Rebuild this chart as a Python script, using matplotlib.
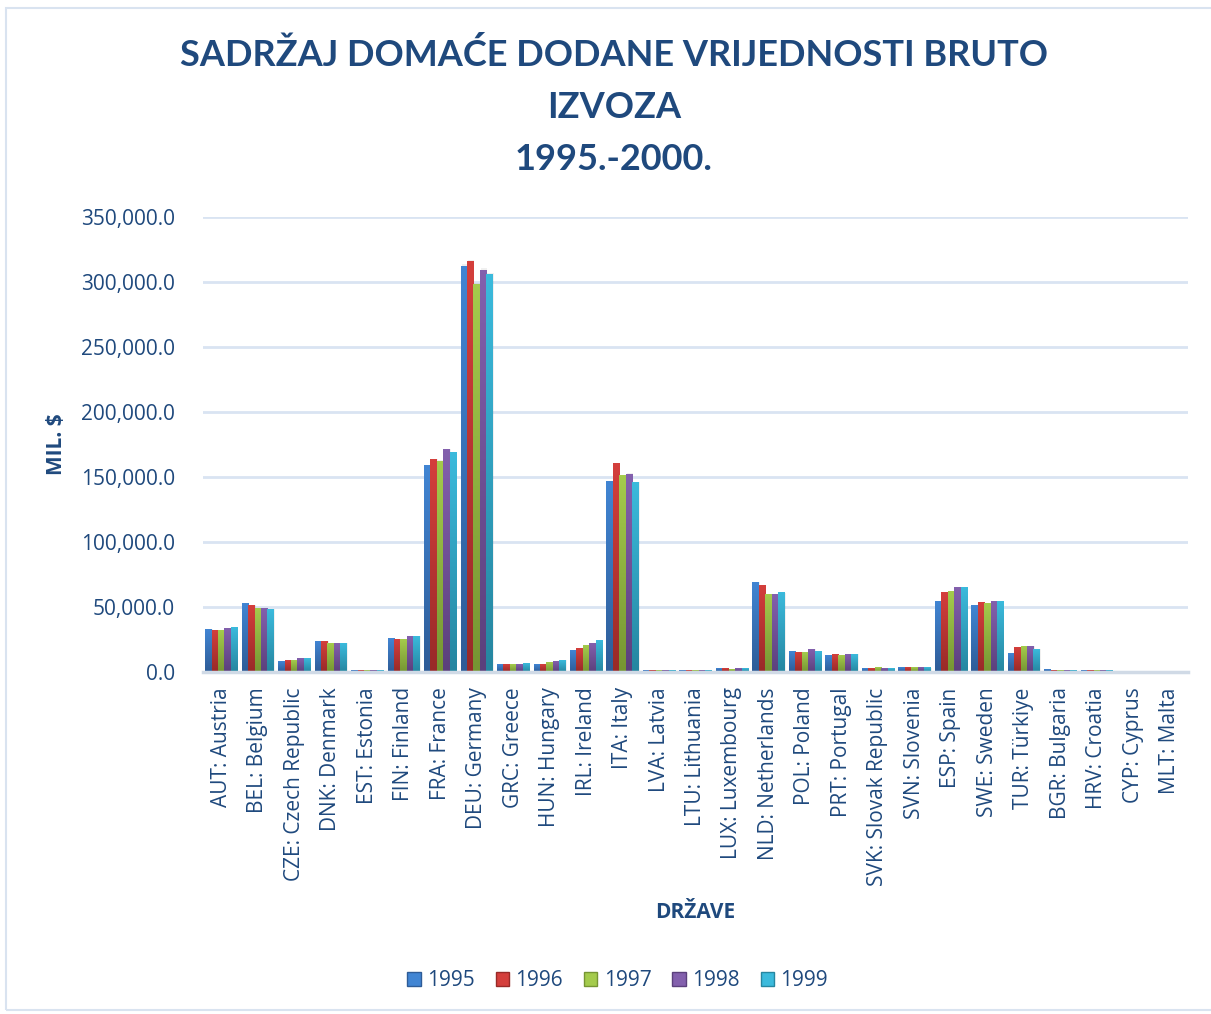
import numpy as np
import matplotlib
matplotlib.use('Agg')
from matplotlib import pyplot as plt
from matplotlib.patches import Rectangle, Patch
from matplotlib.ticker import FuncFormatter

countries = ['AUT: Austria', 'BEL: Belgium', 'CZE: Czech Republic', 'DNK: Denmark',
             'EST: Estonia', 'FIN: Finland', 'FRA: France', 'DEU: Germany', 'GRC: Greece',
             'HUN: Hungary', 'IRL: Ireland', 'ITA: Italy', 'LVA: Latvia', 'LTU: Lithuania',
             'LUX: Luxembourg', 'NLD: Netherlands', 'POL: Poland', 'PRT: Portugal',
             'SVK: Slovak Republic', 'SVN: Slovenia', 'ESP: Spain', 'SWE: Sweden',
             'TUR: Türkiye', 'BGR: Bulgaria', 'HRV: Croatia', 'CYP: Cyprus', 'MLT: Malta']
years = ['1995', '1996', '1997', '1998', '1999']

v1995 = [33000, 52600, 8000, 23700, 900, 26000, 158500, 312300, 5800, 5800, 16700, 146200,
         800, 1000, 2600, 68600, 16000, 12800, 2600, 3400, 54500, 51300, 14400, 1900, 1000, 600, 200]
v1996 = [32300, 51000, 8800, 23700, 900, 25200, 163100, 315400, 5800, 5800, 18300, 160000,
         800, 1000, 2600, 66300, 15200, 13600, 2600, 3400, 60800, 53700, 19100, 1000, 1000, 600, 200]
v1997 = [32300, 48700, 8800, 22100, 900, 25200, 162300, 297700, 5800, 7300, 20600, 150800,
         800, 1000, 1800, 60000, 15200, 12800, 3400, 3400, 61600, 52900, 19900, 1000, 1000, 600, 200]
v1998 = [33800, 48700, 10400, 22100, 900, 27600, 170800, 309200, 5800, 8100, 22200, 152300,
         800, 1000, 2600, 60000, 17500, 13600, 2600, 3400, 64700, 54500, 19900, 1000, 1000, 600, 200]
v1999 = [34600, 47900, 10400, 22100, 900, 27600, 168500, 305400, 6500, 8900, 24500, 145400,
         800, 1000, 2600, 60800, 16000, 13600, 2600, 3400, 64700, 54500, 17500, 1000, 1000, 600, 200]
series = [v1995, v1996, v1997, v1998, v1999]

# (top colour, bottom colour) for the bar gradients
shades = [('#4185D3', '#2E5C97'), ('#D43F3C', '#982A28'), ('#A4CB4C', '#769533'),
          ('#8360AD', '#5B407C'), ('#3BBADC', '#2686A0')]
navy = '#1F497D'
grid_c = '#D9E4F2'

plt.rcParams['font.family'] = ['Open Sans', 'DejaVu Sans']

fig = plt.figure(figsize=(12.11, 10.14), dpi=100)
ax = fig.add_axes([203 / 1211, 1 - 672 / 1014, 985 / 1211, 455 / 1014])

x = np.arange(len(countries))
w = 0.176
for i, vals in enumerate(series):
    bars = ax.bar(x + (i - 2) * w, vals, width=w, color=shades[i][0], alpha=0)
    top = np.array(matplotlib.colors.to_rgb(shades[i][0]))
    bot = np.array(matplotlib.colors.to_rgb(shades[i][1]))
    t = np.linspace(0, 1, 64)[:, None]
    grad = (top * (1 - t) + bot * t)[:, None, :]
    for b in bars:
        x0 = b.get_x()
        h = b.get_height()
        ax.add_patch(Rectangle((x0 + 0.03, 0), b.get_width(), h * 1.004, color='#000000',
                               alpha=0.06, lw=0, zorder=1))
        ax.imshow(grad, extent=[x0, x0 + b.get_width(), 0, h], aspect='auto',
                  interpolation='bilinear', zorder=2)

ax.set_xlim(-0.5, len(countries) - 0.5)
ax.set_ylim(0, 350000)
ax.set_yticks(np.arange(0, 350001, 50000))
ax.yaxis.set_major_formatter(FuncFormatter(lambda v, p: f'{v:,.1f}'))
ax.grid(axis='y', color=grid_c, lw=2)
ax.set_axisbelow(True)
for s in ['top', 'right', 'left']:
    ax.spines[s].set_visible(False)
ax.spines['bottom'].set_color('#D0DAE6')
ax.spines['bottom'].set_linewidth(2.5)
ax.tick_params(axis='both', length=0, colors=navy, labelsize=15)
ax.tick_params(axis='y', pad=20)
ax.set_xticks(x)
ax.set_xticklabels(countries, rotation=90, color=navy)
ax.tick_params(axis='x', pad=11)

ax.set_ylabel('MIL. $', color=navy, fontsize=15, fontweight='bold', labelpad=10)
ax.set_xlabel('DRŽAVE', color=navy, fontsize=15, fontweight='bold', labelpad=12)

fig.text(0.507, 1 - 107 / 1014, 'SADRŽAJ DOMAĆE DODANE VRIJEDNOSTI BRUTO\nIZVOZA\n1995.-2000.',
         ha='center', va='center', color=navy, fontsize=26, fontweight='bold',
         family=['Lato', 'DejaVu Sans'], linespacing=1.72)

handles = [Patch(facecolor=shades[i][0], edgecolor=shades[i][1], label=years[i]) for i in range(5)]
fig.legend(handles=handles, loc='center', bbox_to_anchor=(0.51, 1 - 981 / 1014), ncol=5,
           frameon=False, fontsize=15, labelcolor=navy, handlelength=0.65, handleheight=0.65,
           handletextpad=0.3, columnspacing=1.0)

fig.add_artist(Rectangle((6 / 1211, 4 / 1014), 1.1, 1 - 12 / 1014, transform=fig.transFigure,
                         fill=False, edgecolor='#D9E3F0', lw=1.5))

fig.savefig('out.png', dpi=100)
